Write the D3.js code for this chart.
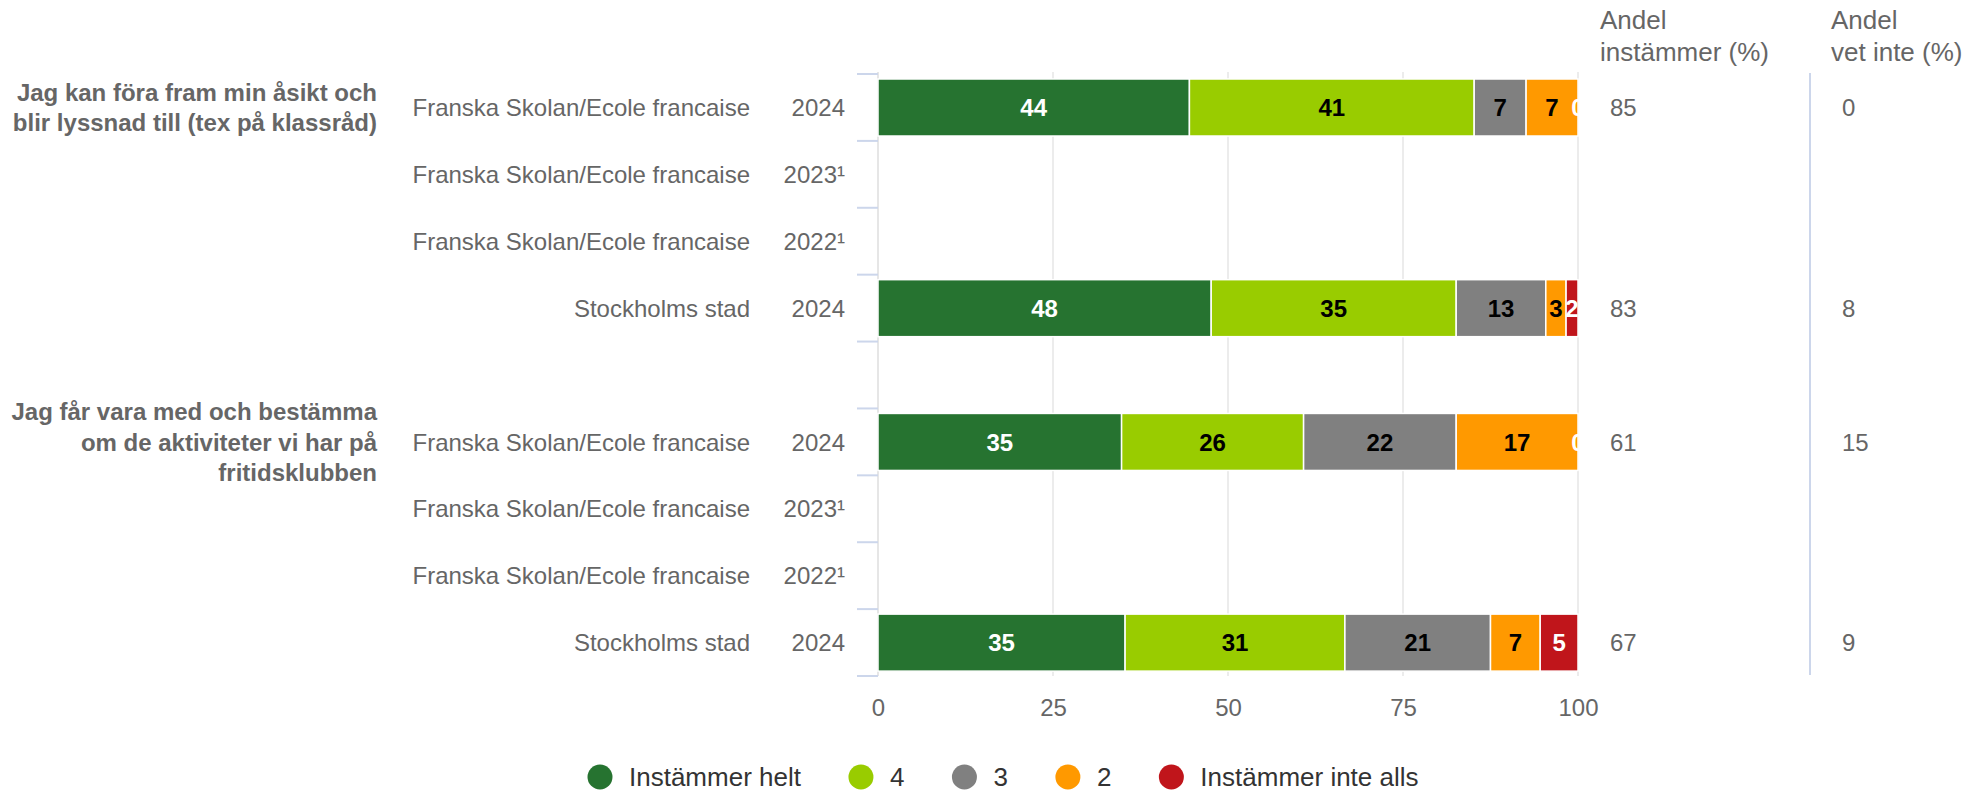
<!DOCTYPE html>
<html>
<head>
<meta charset="utf-8">
<script src="https://cdn.jsdelivr.net/npm/d3@7/dist/d3.min.js"></script>
<style>
  body { margin: 0; background: #fff; }
  text { font-family: "Liberation Sans", Arial, sans-serif; }
</style>
</head>
<body>
<svg id="chart" width="1975" height="792"></svg>
<script>
// questions (group labels), one entry per group
var questions = [
    ["Jag kan föra fram min åsikt och", "blir lyssnad till (tex på klassråd)"],
    ["Jag får vara med och bestämma", "om de aktiviteter vi har på", "fritidsklubben"]
];
// rows inside each group
var units = ["Franska Skolan/Ecole francaise", "Franska Skolan/Ecole francaise", "Franska Skolan/Ecole francaise", "Stockholms stad"];
var years = ["2024", "2023¹", "2022¹", "2024"];

// series values, 8 rows (group 1 then group 2), null = no data
var seriesNames = ["Instämmer helt", "4", "3", "2", "Instämmer inte alls"];
var helt      = [44.4, null, null, 47.6, 34.8, null, null, 35.3];
var fyra      = [40.6, null, null, 35.0, 26.0, null, null, 31.4];
var tre       = [7.4,  null, null, 12.8, 21.8, null, null, 20.8];
var tva       = [7.4,  null, null, 2.9,  17.4, null, null, 7.1];
var inteAlls  = [0,    null, null, 1.7,  0,    null, null, 5.4];

var andelInstammer = [85, null, null, 83, 61, null, null, 67];
var andelVetInte   = [0, null, null, 8, 15, null, null, 9];

var xTicks = [0, 25, 50, 75, 100];

var colors = ["#267330", "#99cc00", "#808080", "#ff9900", "#c0151b"];
var labelColors = ["#ffffff", "#000000", "#000000", "#000000", "#ffffff"];
var series = [helt, fyra, tre, tva, inteAlls];

var svg = d3.select("#chart");
var grey = "#666666";

var plotLeft = 878, plotRight = 1578, plotTop = 74, plotBottom = 676;

var x = d3.scaleLinear().domain([0, 100]).range([plotLeft, plotRight]);
// 9 slots: 4 rows, one empty slot, 4 rows
var y = d3.scaleBand().domain(d3.range(9)).range([plotTop, plotBottom]).paddingInner(0).paddingOuter(0);
var barH = 57;
function slot(r) { return r < 4 ? r : r + 1; }
function barY(r) { return y(slot(r)) + 5; }

// clip for the plot area
svg.append("defs").append("clipPath").attr("id", "plotClip")
    .append("rect").attr("x", plotLeft).attr("y", 0).attr("width", plotRight - plotLeft + 0.5).attr("height", 792);

// grid lines
svg.append("g").selectAll("line")
    .data(xTicks).enter().append("line")
    .attr("x1", function(d) { return x(d); })
    .attr("x2", function(d) { return x(d); })
    .attr("y1", 72).attr("y2", plotBottom)
    .attr("stroke", "#e6e6e6")
    .attr("stroke-width", function(d) { return d == 0 ? 2 : 1.5; });

// x axis labels
var xAxis = d3.axisBottom(x).tickValues(xTicks).tickSize(0).tickPadding(0);
var xg = svg.append("g").attr("transform", "translate(0," + 716 + ")").call(xAxis);
xg.select(".domain").remove();
xg.selectAll("text").attr("font-size", 24).attr("fill", grey).attr("dy", 0)
    .style("font-family", "'Liberation Sans', Arial, sans-serif");

// category tick marks
var tickG = svg.append("g");
[0, 1].forEach(function(g) {
    for (var i = 0; i <= 4; i++) {
        var yy = (i < 4 ? y(g * 5 + i) : y(g * 5 + 3) + y.step());
        tickG.append("line")
            .attr("x1", 857).attr("x2", 878)
            .attr("y1", yy).attr("y2", yy)
            .attr("stroke", "#ccd6eb").attr("stroke-width", 2);
    }
});

// stacked bars
var rows = d3.range(8);
var barsG = svg.append("g");
var labelsG = svg.append("g").attr("clip-path", "url(#plotClip)");
rows.forEach(function(r) {
    if (helt[r] === null) return;
    var vals = series.map(function(s) { return s[r]; });
    var total = d3.sum(vals);
    var acc = 0;
    vals.forEach(function(v, k) {
        var x0 = acc / total * 100;
        acc += v;
        var x1 = acc / total * 100;
        barsG.append("rect")
            .attr("x", x(x0)).attr("y", barY(r))
            .attr("width", Math.max(0, x(x1) - x(x0))).attr("height", barH)
            .attr("fill", colors[k])
            .attr("stroke", "#ffffff").attr("stroke-width", 1.5);
        labelsG.append("text")
            .attr("x", (x(x0) + x(x1)) / 2)
            .attr("y", barY(r) + barH / 2)
            .attr("dy", "0.36em")
            .attr("text-anchor", "middle")
            .attr("font-size", 24).attr("font-weight", "bold")
            .attr("fill", labelColors[k])
            .text(Math.round(v));
    });
});

// category labels and years
var catG = svg.append("g");
rows.forEach(function(r) {
    var cy = barY(r) + barH / 2;
    catG.append("text")
        .attr("x", 750).attr("y", cy).attr("dy", "0.36em")
        .attr("text-anchor", "end").attr("font-size", 24).attr("fill", grey)
        .text(units[r % 4]);
    catG.append("text")
        .attr("x", 845).attr("y", cy).attr("dy", "0.36em")
        .attr("text-anchor", "end").attr("font-size", 24).attr("fill", grey)
        .text(years[r % 4]);
});

// group labels, centered on the first row of each group
questions.forEach(function(lines, g) {
    var cy = barY(g * 4) + barH / 2;
    var lh = 30.5;
    var y0 = cy - (lines.length - 1) * lh / 2;
    lines.forEach(function(line, i) {
        svg.append("text")
            .attr("x", 377).attr("y", y0 + i * lh).attr("dy", "0.36em")
            .attr("text-anchor", "end").attr("font-size", 24)
            .attr("font-weight", "bold").attr("fill", grey)
            .text(line);
    });
});

// right hand columns
var headers = [{x: 1600, lines: ["Andel", "instämmer (%)"]}, {x: 1831, lines: ["Andel", "vet inte (%)"]}];
headers.forEach(function(h) {
    h.lines.forEach(function(line, i) {
        svg.append("text")
            .attr("x", h.x).attr("y", 29 + i * 32)
            .attr("font-size", 26).attr("fill", grey)
            .text(line);
    });
});
svg.append("line")
    .attr("x1", 1810).attr("x2", 1810).attr("y1", 73).attr("y2", 675)
    .attr("stroke", "#ccd6eb").attr("stroke-width", 2);
rows.forEach(function(r) {
    if (andelInstammer[r] === null) return;
    var cy = barY(r) + barH / 2;
    svg.append("text").attr("x", 1610).attr("y", cy).attr("dy", "0.36em")
        .attr("font-size", 24).attr("fill", grey).text(andelInstammer[r]);
    svg.append("text").attr("x", 1842).attr("y", cy).attr("dy", "0.36em")
        .attr("font-size", 24).attr("fill", grey).text(andelVetInte[r]);
});

// legend
var legend = svg.append("g");
var items = legend.selectAll("g").data(seriesNames).enter().append("g");
items.append("circle").attr("r", 12.5).attr("fill", function(d, i) { return colors[i]; });
items.append("text").attr("x", 29).attr("dy", "0.36em")
    .attr("font-size", 26).attr("fill", "#333333")
    .text(function(d) { return d; });
var cx = 0;
items.each(function() {
    var g = d3.select(this);
    g.attr("transform", "translate(" + cx + ",0)");
    cx += 29 + g.select("text").node().getComputedTextLength() + 60;
});
legend.attr("transform", "translate(600,777)");
</script>
</body>
</html>
